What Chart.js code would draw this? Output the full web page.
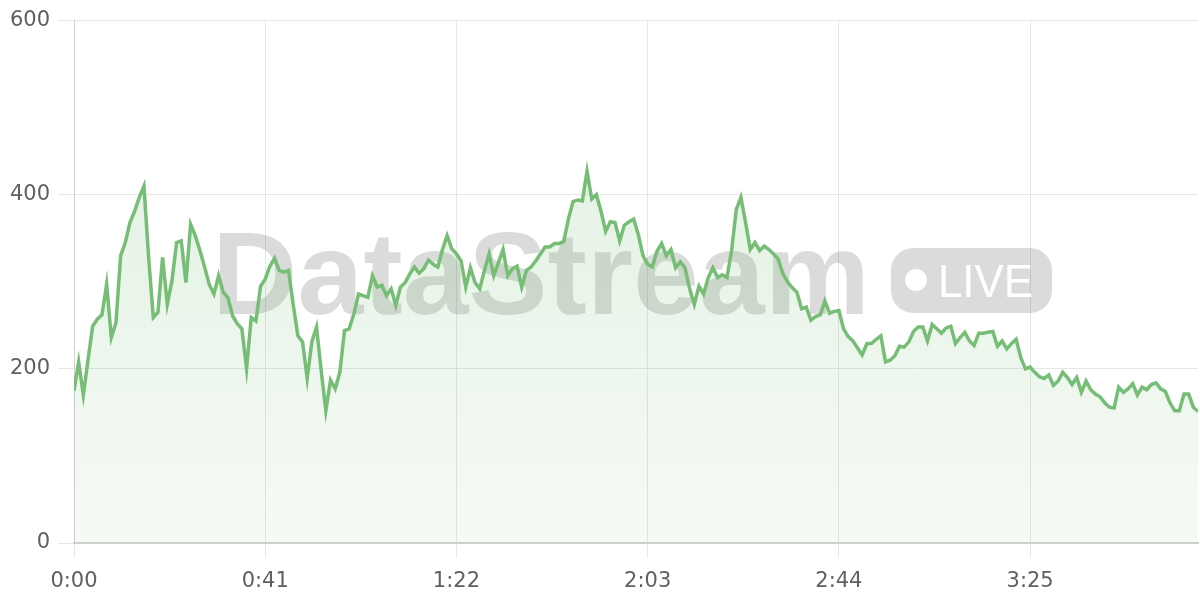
<!DOCTYPE html>
<html>
<head>
<meta charset="utf-8">
<script src="https://cdn.jsdelivr.net/npm/chart.js@4/dist/chart.umd.min.js"></script>
<style>
  html, body { margin: 0; padding: 0; background: #fff; }
  #wrap { width: 1200px; height: 600px; }
</style>
</head>
<body>
<div id="wrap"><canvas id="chart" width="1200" height="600"></canvas></div>
<script>
// values, one per second
var values = [
  175, 208, 170, 210, 249, 257, 262, 297, 236, 253,
  330, 345, 368, 381, 397, 410, 328, 259, 265, 328,
  274, 301, 345, 347, 299, 366, 353, 336, 317, 297,
  286, 307, 288, 282, 261, 252, 246, 200, 259, 255,
  295, 303, 318, 327, 313, 311, 313, 274, 238, 231,
  189, 231, 248, 198, 152, 187, 177, 196, 244, 246,
  263, 286, 284, 282, 307, 294, 296, 284, 292, 273,
  294, 299, 309, 317, 310, 315, 325, 320, 317, 337,
  353, 338, 332, 324, 294, 316, 299, 292, 313, 332,
  307, 322, 337, 307, 315, 318, 294, 313, 317, 324,
  332, 340, 340, 344, 344, 346, 372, 392, 394, 393,
  427, 395, 400, 381, 358, 369, 368, 347, 365, 369,
  372, 354, 330, 320, 317, 335, 344, 330, 337, 316,
  323, 316, 292, 274, 295, 286, 305, 316, 305, 308,
  305, 336, 383, 397, 368, 337, 345, 336, 341, 337,
  332, 326, 309, 300, 293, 288, 269, 271, 256, 260,
  262, 278, 264, 266, 267, 246, 237, 232, 224, 216,
  229, 229, 234, 238, 208, 210, 215, 226, 225, 231,
  243, 248, 248, 232, 251, 246, 241, 247, 249, 229,
  236, 242, 232, 227, 241, 241, 242, 243, 226, 232,
  223, 229, 234, 213, 200, 202, 196, 191, 189, 193,
  181, 186, 196, 190, 182, 190, 173, 186, 176, 171,
  168, 161, 156, 155, 179, 173, 177, 183, 170, 179,
  176, 182, 184, 177, 174, 161, 152, 152, 171, 171,
  156, 151
];
var seconds = values.map(function (v, i) { return i; });

var xTickSeconds = [0, 41, 82, 123, 164, 205];
var xTickLabels = ['0:00', '0:41', '1:22', '2:03', '2:44', '3:25'];
var yTicks = [0, 200, 400, 600];

var GREEN = 'rgb(118, 189, 118)';
var FONT = "'Liberation Sans', Arial, sans-serif";
var TICK_FONT = "'DejaVu Sans', sans-serif";

// big grey "DataStream • LIVE" mark behind the line
var watermark = {
  id: 'watermark',
  beforeDatasetsDraw: function (chart) {
    var ctx = chart.ctx;
    ctx.save();
    ctx.fillStyle = 'rgba(0, 0, 0, 0.14)';
    ctx.font = 'bold 116px ' + FONT;
    ctx.textBaseline = 'alphabetic';
    var w = ctx.measureText('DataStream').width;
    ctx.save();
    ctx.translate(212, 314);
    ctx.scale(658 / w, 1);
    ctx.fillText('DataStream', 0, 0);
    ctx.restore();

    ctx.beginPath();
    ctx.roundRect(891, 248, 161, 65, 22);
    ctx.fill();
    ctx.restore();

    ctx.save();
    ctx.fillStyle = '#ffffff';
    ctx.beginPath();
    ctx.arc(916, 280, 11, 0, Math.PI * 2);
    ctx.fill();
    ctx.font = '46px ' + FONT;
    var lw = ctx.measureText('LIVE').width;
    ctx.translate(938, 297);
    ctx.scale(95 / lw, 1);
    ctx.fillText('LIVE', 0, 0);
    ctx.restore();
  }
};

new Chart(document.getElementById('chart'), {
  type: 'line',
  data: {
    datasets: [{
      data: values.map(function (v, i) { return { x: seconds[i], y: v }; }),
      borderColor: GREEN,
      borderWidth: 3.5,
      pointRadius: 0,
      tension: 0,
      fill: 'origin',
      backgroundColor: function (c) {
        var a = c.chart.chartArea;
        if (!a) return 'rgba(118,189,118,0.12)';
        var g = c.chart.ctx.createLinearGradient(0, a.top, 0, a.bottom);
        g.addColorStop(0, 'rgba(118, 189, 118, 0.24)');
        g.addColorStop(1, 'rgba(118, 189, 118, 0.07)');
        return g;
      }
    }]
  },
  options: {
    responsive: false,
    animation: false,
    devicePixelRatio: 1,
    layout: { padding: { top: 8, right: 2, bottom: 0, left: 0 } },
    plugins: { legend: { display: false }, tooltip: { enabled: false } },
    scales: {
      x: {
        type: 'linear',
        min: 0,
        max: seconds[seconds.length - 1],
        afterBuildTicks: function (axis) {
          axis.ticks = xTickSeconds.map(function (s) { return { value: s }; });
        },
        afterFit: function (axis) { axis.height = 57; },
        ticks: {
          maxRotation: 0,
          autoSkip: false,
          padding: 11,
          color: '#606060',
          font: { family: TICK_FONT, size: 21 },
          callback: function (v) {
            var k = xTickSeconds.indexOf(v);
            return k < 0 ? '' : xTickLabels[k];
          }
        },
        grid: { color: '#e6e6e6', tickLength: 15 },
        border: { color: '#cfcfcf', width: 2 }
      },
      y: {
        min: 0,
        max: 600,
        afterBuildTicks: function (axis) {
          axis.ticks = yTicks.map(function (v) { return { value: v }; });
        },
        afterFit: function (axis) { axis.width = 74; },
        ticks: {
          padding: 8,
          color: '#606060',
          font: { family: TICK_FONT, size: 21 }
        },
        grid: { color: '#e6e6e6', tickLength: 16 },
        border: { color: '#d0d0d0', width: 1 }
      }
    }
  },
  plugins: [watermark]
});
</script>
</body>
</html>
